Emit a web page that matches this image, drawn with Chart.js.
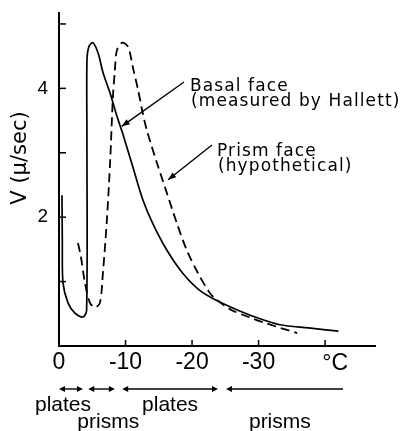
<!DOCTYPE html>
<html><head><meta charset="utf-8">
<script src="https://cdn.jsdelivr.net/npm/chart.js@4.4.1/dist/chart.umd.min.js"></script>
<style>html,body{margin:0;padding:0;background:#fff;}canvas{display:block;}</style>
</head><body>
<canvas id="c" width="401" height="431"></canvas>
<script>
// Basal face (measured by Hallett) — solid
const basalTemp = [-0.45, -0.5, -0.6, -1.35, -2.4, -3.6, -4.15, -4.2, -4.2, -4.5, -5.1, -5.9, -6.6, -7.7, -8.7, -9.6, -11.1, -12.6, -14.1, -16.2, -18.6, -21.2, -24.0, -26.8, -30.0, -33.2, -37.5, -42.0];
const basalRate = [2.34, 1.6, 0.98, 0.67, 0.51, 0.45, 0.55, 3.19, 4.43, 4.65, 4.71, 4.54, 4.25, 3.92, 3.57, 3.29, 2.78, 2.27, 1.9, 1.49, 1.13, 0.86, 0.69, 0.56, 0.43, 0.33, 0.28, 0.23];
// Prism face (hypothetical) — dashed
const prismTemp = [-2.85, -3.3, -3.9, -4.65, -5.4, -6.15, -6.6, -7.2, -7.7, -8.1, -8.4, -8.7, -9.5, -10.4, -11.1, -11.9, -12.5, -13.2, -14.7, -16.2, -17.7, -19.2, -20.9, -22.7, -23.8, -25.9, -28.5, -30.9, -35.8];
const prismRate = [1.6, 1.38, 0.98, 0.67, 0.60, 0.67, 1.13, 1.96, 2.89, 3.86, 4.28, 4.59, 4.71, 4.64, 4.33, 3.97, 3.66, 3.35, 2.85, 2.38, 1.91, 1.49, 1.13, 0.82, 0.71, 0.56, 0.45, 0.36, 0.2];
// axis labels
const yLabelled = [2, 4];
const xUnit = '°C';
const yTitle = 'V (μ/sec)';
// crystal habit ranges below the axis
const habitFrom = [0, -4.4, -9.5, -25.1];
const habitTo = [-3.6, -8.4, -23.9, -42.7];
const habitName = ['plates', 'prisms', 'plates', 'prisms'];
const habitNameAt = [-0.6, -7.4, -16.7, -33.2];
const habitOpenEnd = [false, false, false, true];
// curve notes
const noteLines = [['Basal face', '(measured by Hallett)'], ['Prism face', '(hypothetical)']];
const noteTipTemp = [-9.43, -16.4];
const noteTipRate = [3.41, 2.58];

function arrowHead(ctx, x1, y1, x2, y2, len, w) {
  const a = Math.atan2(y2 - y1, x2 - x1);
  ctx.beginPath();
  ctx.moveTo(x2, y2);
  ctx.lineTo(x2 - len * Math.cos(a) + w * Math.sin(a), y2 - len * Math.sin(a) - w * Math.cos(a));
  ctx.lineTo(x2 - len * Math.cos(a) - w * Math.sin(a), y2 - len * Math.sin(a) + w * Math.cos(a));
  ctx.closePath();
  ctx.fill();
}
function seg(ctx, x1, y1, x2, y2) { ctx.beginPath(); ctx.moveTo(x1, y1); ctx.lineTo(x2, y2); ctx.stroke(); }

const overlay = {
  id: 'overlay',
  afterDraw(chart) {
    const { ctx, chartArea: ca } = chart;
    const xs = chart.scales.x, ys = chart.scales.y;
    ctx.save();
    ctx.strokeStyle = '#000'; ctx.fillStyle = '#000'; ctx.lineWidth = 1.5;
    // inward tick marks
    ys.ticks.forEach(t => { if (t.value > 0) { const p = ys.getPixelForValue(t.value); seg(ctx, ca.left, p, ca.left + 7, p); } });
    xs.ticks.forEach(t => { if (t.value < 0) { const p = xs.getPixelForValue(t.value); seg(ctx, p, ca.bottom, p, ca.bottom - 6); } });
    // unit label
    ctx.font = '23px "Liberation Sans"'; ctx.textAlign = 'center'; ctx.textBaseline = 'middle';
    ctx.fillText(xUnit, xs.getPixelForValue(-40) + 10, 364);
    // y title
    ctx.save();
    ctx.translate(21, 158); ctx.rotate(-Math.PI / 2);
    ctx.font = '21px "DejaVu Sans"'; ctx.textAlign = 'center'; ctx.textBaseline = 'middle';
    ctx.fillText(yTitle, 0, 0);
    ctx.restore();
    // habit ranges
    ctx.lineWidth = 1.4;
    ctx.font = '21px "Liberation Sans"'; ctx.textAlign = 'center'; ctx.textBaseline = 'alphabetic';
    habitFrom.forEach((f, i) => {
      const a = xs.getPixelForValue(f), b = xs.getPixelForValue(habitTo[i]);
      const yy = 389;
      seg(ctx, a + 2, yy, b - (habitOpenEnd[i] ? 0 : 2), yy);
      arrowHead(ctx, b, yy, a, yy, 6, 3);
      if (!habitOpenEnd[i]) arrowHead(ctx, a, yy, b, yy, 6, 3);
      ctx.fillText(habitName[i], xs.getPixelForValue(habitNameAt[i]), i % 2 ? 428 : 411);
    });
    // curve notes
    const textX = [190, 217], base = [90.7, 155.7], tail = [[184, 82], [212, 145]];
    ctx.font = '17px "DejaVu Sans"'; ctx.textAlign = 'left';
    try { ctx.letterSpacing = '1.1px'; } catch (e) {}
    noteLines.forEach((lines, i) => {
      ctx.fillText(lines[0], textX[i], base[i]);
      ctx.fillText(lines[1], textX[i] + 1, base[i] + 15.5);
      const tx = xs.getPixelForValue(noteTipTemp[i]), ty = ys.getPixelForValue(noteTipRate[i]);
      seg(ctx, tail[i][0], tail[i][1], tx, ty);
      arrowHead(ctx, tail[i][0], tail[i][1], tx, ty, 8, 3);
    });
    ctx.restore();
  }
};

new Chart(document.getElementById('c'), {
  type: 'line',
  data: {
    datasets: [
      { label: 'Basal face', data: basalTemp.map((t, i) => ({ x: t, y: basalRate[i] })), borderColor: '#000', borderWidth: 1.7, pointRadius: 0, tension: 0.3, fill: false },
      { label: 'Prism face', data: prismTemp.map((t, i) => ({ x: t, y: prismRate[i] })), borderColor: '#000', borderWidth: 1.8, borderDash: [9, 5], pointRadius: 0, tension: 0.3, fill: false }
    ]
  },
  options: {
    responsive: false, animation: false,
    layout: { padding: { top: 13, right: 26, left: 0, bottom: 0 } },
    plugins: { legend: { display: false }, tooltip: { enabled: false } },
    scales: {
      x: {
        type: 'linear', reverse: true, min: -47.5, max: 0,
        afterFit: s => { s.height = 85; s.paddingLeft = 0; s.paddingRight = 0; },
        grid: { display: false, drawTicks: false },
        border: { display: true, color: '#000', width: 2 },
        ticks: { stepSize: 10, includeBounds: false, padding: 3, color: '#000', font: { family: 'Liberation Sans', size: 23 },
          callback: v => (v <= -40) ? '' : String(v) }
      },
      y: {
        min: 0, max: 5.17,
        afterFit: s => { s.width = 59; s.paddingTop = 0; s.paddingBottom = 0; },
        grid: { display: false, drawTicks: false },
        border: { display: true, color: '#000', width: 2 },
        ticks: { stepSize: 1, includeBounds: false, padding: 11, color: '#000', font: { family: 'Liberation Sans', size: 19 },
          callback: v => yLabelled.includes(v) ? String(v) : '' }
      }
    }
  },
  plugins: [overlay]
});
</script>
</body></html>
